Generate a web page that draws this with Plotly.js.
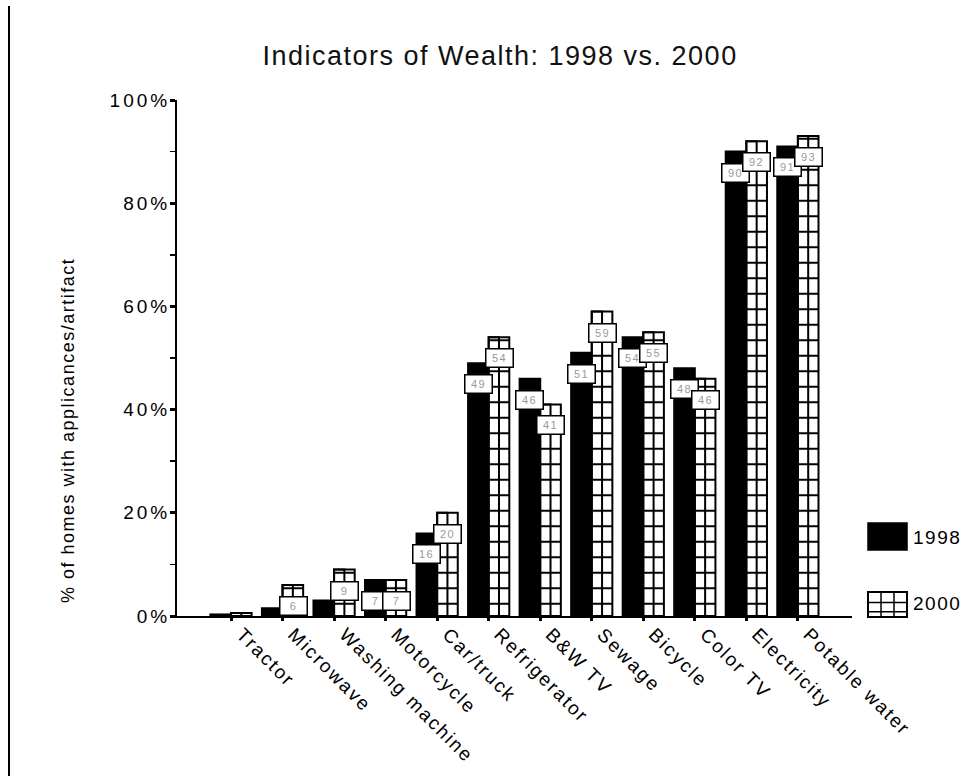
<!DOCTYPE html>
<html>
<head>
<meta charset="utf-8">
<script src="https://cdn.plot.ly/plotly-3.0.1.min.js"></script>
<style>
  html, body { margin: 0; padding: 0; background: #fff; }
  #chart { width: 970px; height: 776px; position: relative; }
  #border { position: absolute; left: 8px; top: 6px; width: 2px; height: 770px; background: #000; }
  .ytick text { letter-spacing: 3px; }
  .xtick text { letter-spacing: 2px; }
  .gtitle { letter-spacing: 1.5px; }
  .annotation-text { letter-spacing: 1.5px; }
</style>
</head>
<body>
<div id="chart"></div>
<div id="border"></div>
<script>
// ---- data ----
const categories = ["Tractor", "Microwave", "Washing machine", "Motorcycle", "Car/truck",
  "Refrigerator", "B&W TV", "Sewage", "Bicycle", "Color TV", "Electricity", "Potable water"];
const values1998 = [0.3, 1.5, 3, 7, 16, 49, 46, 51, 54, 48, 90, 91];
const values2000 = [0.6, 6, 9, 7, 20, 54, 41, 59, 55, 46, 92, 93];
const seriesNames = ["1998", "2000"];
const yTickVals = [0, 20, 40, 60, 80, 100];
const yTickText = ["0%", "20%", "40%", "60%", "80%", "100%"];

const FONT = "Arial, 'Liberation Sans', sans-serif";

const t1998 = {
  type: "bar", name: seriesNames[0], x: categories, y: values1998,
  width: 0.4, offset: -0.4,
  marker: { color: "#000", line: { color: "#000", width: 2 } },
  hoverinfo: "x+y"
};
const t2000 = {
  type: "bar", name: seriesNames[1], x: categories, y: values2000,
  width: 0.4, offset: 0,
  marker: {
    color: "#fff",
    line: { color: "#000", width: 2 },
    pattern: { shape: "-", size: 15.5, solidity: 0.13, fgcolor: "#000", bgcolor: "#fff", fgopacity: 1 }
  },
  hoverinfo: "x+y"
};
// middle divider of the 2000 grid bars (same data, half width, no fill)
const t2000grid = {
  type: "bar", x: categories, y: values2000, showlegend: false,
  width: 0.2, offset: 0,
  marker: { color: "rgba(0,0,0,0)", line: { color: "#000", width: 2 } },
  hoverinfo: "skip"
};

const annotations = [];
function addLabels(vals, shift) {
  vals.forEach((v, i) => {
    if (v >= 5) {
      annotations.push({
        x: categories[i], y: v, xref: "x", yref: "y",
        xshift: shift, yshift: -21, showarrow: false,
        text: String(Math.round(v)),
        bgcolor: "#fff", bordercolor: "#000", borderwidth: 1.5, borderpad: 2,
        width: 22, height: 13,
        font: { family: FONT, size: 11, color: "#999" }
      });
    }
  });
}
addLabels(values1998, -10.5);
addLabels(values2000, 10.5);

// y-axis title
annotations.push({
  xref: "paper", yref: "paper", x: -0.1615, y: 0.3605,
  xanchor: "center", yanchor: "middle", textangle: -90, showarrow: false,
  text: "% of homes with applicances/artifact",
  font: { family: FONT, size: 18, color: "#000" }
});
// legend texts
annotations.push({
  xref: "paper", yref: "paper", x: 1.088, y: 0.153, xanchor: "left", yanchor: "middle",
  showarrow: false, text: seriesNames[0], font: { family: FONT, size: 19, color: "#000" }
});
annotations.push({
  xref: "paper", yref: "paper", x: 1.088, y: 0.0233, xanchor: "left", yanchor: "middle",
  showarrow: false, text: seriesNames[1], font: { family: FONT, size: 19, color: "#000" }
});

const shapes = [
  // 1998 legend swatch
  { type: "rect", xref: "paper", yref: "paper", x0: 1.0237, x1: 1.0815, y0: 0.128, y1: 0.180,
    fillcolor: "#000", line: { color: "#000", width: 1.5 } },
  // 2000 legend swatch
  { type: "rect", xref: "paper", yref: "paper", x0: 1.0237, x1: 1.0815, y0: -0.002, y1: 0.0465,
    fillcolor: "#fff", line: { color: "#000", width: 2 } },
  { type: "line", xref: "paper", yref: "paper", x0: 1.043, x1: 1.043, y0: -0.002, y1: 0.0465,
    line: { color: "#000", width: 1.5 } },
  { type: "line", xref: "paper", yref: "paper", x0: 1.0622, x1: 1.0622, y0: -0.002, y1: 0.0465,
    line: { color: "#000", width: 1.5 } },
  { type: "line", xref: "paper", yref: "paper", x0: 1.0237, x1: 1.0815, y0: 0.026, y1: 0.026,
    line: { color: "#000", width: 1.5 } },
  { type: "line", xref: "paper", yref: "paper", x0: 1.0237, x1: 1.0815, y0: 0.008, y1: 0.008,
    line: { color: "#000", width: 1.5 } }
];

const layout = {
  width: 970, height: 776,
  margin: { l: 177, r: 118, t: 100, b: 160 },
  paper_bgcolor: "#fff", plot_bgcolor: "#fff",
  font: { family: FONT, color: "#000" },
  title: {
    text: "Indicators of Wealth: 1998 vs. 2000",
    x: 0.5155, xanchor: "center", y: 0.929, yanchor: "middle",
    font: { family: FONT, size: 27, color: "#111" }
  },
  barmode: "overlay",
  showlegend: false,
  xaxis: {
    type: "category", range: [-1.048, 12.05],
    showline: true, linecolor: "#000", linewidth: 2,
    ticks: "outside", ticklen: 3, tickwidth: 3, tickcolor: "#000",
    tickangle: 45, tickfont: { family: FONT, size: 19, color: "#000" },
    ticklabelshift: 11, ticklabelstandoff: -5,
    showgrid: false, zeroline: false, fixedrange: true
  },
  yaxis: {
    range: [0, 100],
    tickvals: yTickVals, ticktext: yTickText,
    showline: true, linecolor: "#000", linewidth: 2,
    ticks: "outside", ticklen: 5, tickwidth: 3, tickcolor: "#000",
    tickfont: { family: FONT, size: 19, color: "#000" },
    ticklabelstandoff: -4,
    minor: { dtick: 10, tick0: 0, ticks: "outside", ticklen: 5, tickwidth: 1.5, tickcolor: "#000", showgrid: false },
    showgrid: false, zeroline: false, fixedrange: true
  },
  annotations: annotations,
  shapes: shapes
};

Plotly.newPlot("chart", [t1998, t2000, t2000grid], layout, { displayModeBar: false, staticPlot: true });
</script>
</body>
</html>
